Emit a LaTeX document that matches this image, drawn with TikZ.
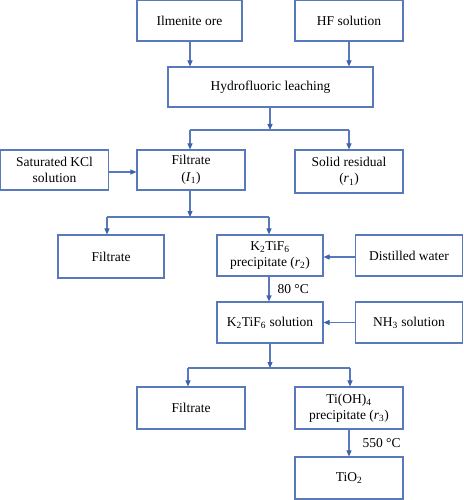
\documentclass[tikz,border=0pt]{standalone}
\usepackage{fontspec}
\setmainfont{Liberation Serif}
\usetikzlibrary{arrows.meta}
\definecolor{boxblue}{RGB}{88,122,188}
\definecolor{arrblue}{RGB}{62,98,170}
\begin{document}
\begin{tikzpicture}[x=1bp,y=-1bp,
  box/.style={draw=boxblue,line width=1.1bp,align=center,inner sep=1bp,
    font=\fontsize{13.5bp}{16.5bp}\selectfont},
  conn/.style={draw=boxblue,line width=1.1bp},
  arr/.style={conn,-{Triangle[length=6bp,width=5bp,fill=arrblue,color=arrblue]}},
  lbl/.style={font=\fontsize{13.5bp}{16.5bp}\selectfont,inner sep=0pt}]
\useasboundingbox (0,0) rectangle (464,500);
\node[box,minimum width=105bp,minimum height=41bp] (ore) at (189.5,20.5) {Ilmenite ore};
\node[box,minimum width=108bp,minimum height=41bp] (hf) at (349,20.5) {HF solution};
\node[box,minimum width=205bp,minimum height=40bp] (leach) at (270.5,87) {Hydrofluoric leaching};
\node[box,minimum width=108bp,minimum height=40bp] (kcl) at (54.5,170) {Saturated KCl\\solution};
\node[box,minimum width=108bp,minimum height=40bp] (fil1) at (191,170) {Filtrate\\(\textit{I}\textsubscript{1})};
\node[box,minimum width=108bp,minimum height=43bp] (res) at (349,171.5) {Solid residual\\(\textit{r}\textsubscript{1})};
\node[box,minimum width=106bp,minimum height=43bp] (fil2) at (111,256.5) {Filtrate};
\node[box,minimum width=106bp,minimum height=41bp] (prec) at (270,255.5) {K\textsubscript{2}TiF\textsubscript{6}\\precipitate (\textit{r}\textsubscript{2})};
\node[box,minimum width=107bp,minimum height=41bp] (dw) at (409,255.5) {Distilled water};
\node[box,minimum width=106bp,minimum height=41bp] (sol) at (270,322.5) {K\textsubscript{2}TiF\textsubscript{6} solution};
\node[box,minimum width=107bp,minimum height=41bp] (nh3) at (409,322.5) {NH\textsubscript{3} solution};
\node[box,minimum width=108bp,minimum height=42bp] (fil3) at (191,408) {Filtrate};
\node[box,minimum width=108bp,minimum height=42bp] (tioh) at (349,408) {Ti(OH)\textsubscript{4}\\precipitate (\textit{r}\textsubscript{3})};
\node[box,minimum width=108bp,minimum height=42bp] (tio2) at (349,478) {TiO\textsubscript{2}};
% junctions
\coordinate (j1) at (270,130);
\coordinate (j2) at (190,217);
\coordinate (j3) at (270,368);
% top inputs
\draw[arr] (190,0 |- ore.south) -- (190,0 |- leach.north);
\draw[arr] (hf.south) -- (hf.south |- leach.north);
% leaching split
\draw[arr] (leach.south -| j1) -- (j1);
\draw[conn] (j1 -| 190,0) -- (j1 -| res.north);
\draw[arr] (j1 -| 190,0) -- (190,0 |- fil1.north);
\draw[arr] (j1 -| res.north) -- (res.north);
\draw[arr] (kcl.east |- 0,172) -- (fil1.west |- 0,172);
% filtrate split
\draw[arr] (190,0 |- fil1.south) -- (j2);
\draw[conn] (j2 -| 107,0) -- (j2 -| 269,0);
\draw[arr] (j2 -| 107,0) -- (107,0 |- fil2.north);
\draw[arr] (j2 -| 269,0) -- (269,0 |- prec.north);
\draw[arr] (dw.west |- 0,257) -- (prec.east |- 0,257);
\draw[arr] (269,0 |- prec.south) -- node[lbl,right=8bp] (t80) {80 °C} (269,0 |- sol.north);
\draw[arr] (nh3.west) -- (sol.east);
% solution split
\draw[arr] (sol.south -| j3) -- (j3);
\draw[conn] (j3 -| 188,0) -- (j3 -| 350,0);
\draw[arr] (j3 -| 188,0) -- (188,0 |- fil3.north);
\draw[arr] (j3 -| 350,0) -- (350,0 |- tioh.north);
\draw[arr] (tioh.south) -- node[lbl,right=13bp] (t550) {550 °C} (tio2.north);
\end{tikzpicture}
\end{document}
